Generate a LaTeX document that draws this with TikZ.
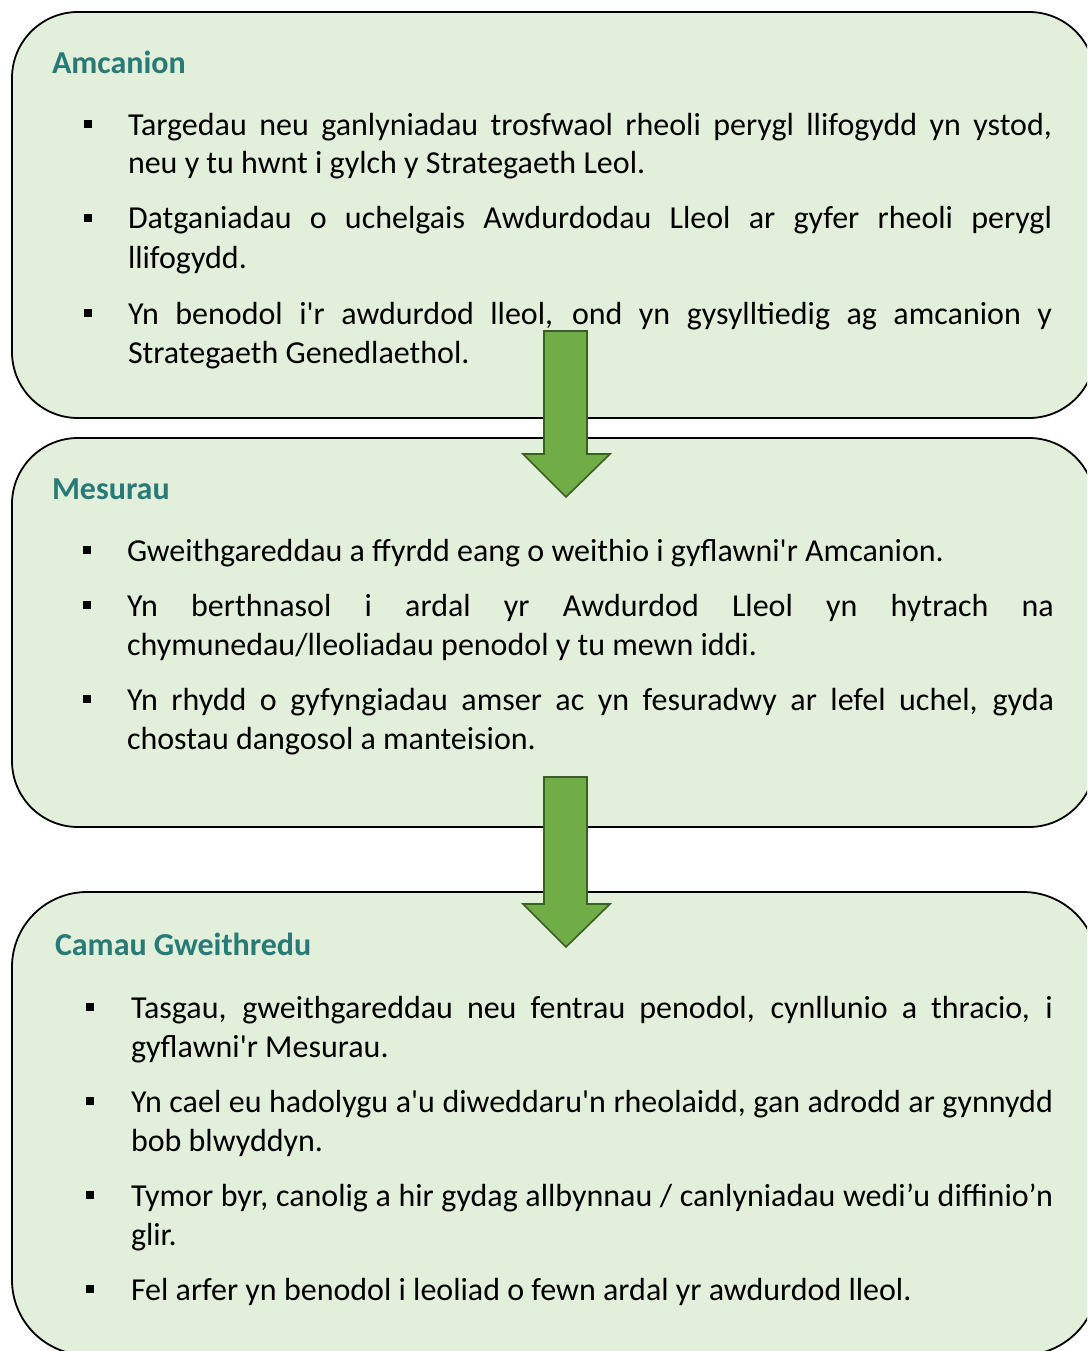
\documentclass[tikz,border=0pt]{standalone}
\usepackage{fontspec}
\setmainfont{Carlito}[Ligatures=TeXOff]
\definecolor{boxfill}{HTML}{E2EFDA}
\definecolor{titlecol}{RGB}{40,122,118}
\definecolor{arrowfill}{HTML}{70AD47}
\definecolor{arrowdraw}{HTML}{3B5E25}
\newcommand\JLine[5]{\node[txt,anchor=base west] (#1) at (#2,#3) {\makebox[#4][s]{#5}};}
\newcommand\PLine[4]{\node[txt,anchor=base west] (#1) at (#2,#3) {#4};}
\newcommand\Bul[3]{\fill (#2,#3-7.5) rectangle +(8,-8);}
\begin{document}
\begin{tikzpicture}[x=1pt,y=-1pt,
  box/.style={draw=black, line width=1.8pt, fill=boxfill, inner sep=0pt, outer sep=0pt},
  txt/.style={inner sep=0pt, outer sep=0pt, font=\fontsize{32}{38}\selectfont, text=black},
  ttl/.style={inner sep=0pt, outer sep=0pt, anchor=base west, font=\fontsize{32}{38}\selectfont\bfseries, text=titlecol},
  blockarrow/.style={fill=arrowfill, draw=arrowdraw, line width=1.6pt, line join=miter}]
\useasboundingbox (0,0) rectangle (1087,1351);
\clip (0,0) rectangle (1087,1351);
% boxes
\node[box, rounded corners=66pt, minimum width=1083pt, minimum height=406pt] (b1) at (553.5,215) {};
\node[box, rounded corners=66pt, minimum width=1083pt, minimum height=389pt] (b2) at (553.5,632.5) {};
\node[box, rounded corners=75pt, minimum width=1086pt, minimum height=463pt] (b3) at (555,1123.5) {};
% arrows
\draw[blockarrow] (544,331) -- (587,331) -- (587,454) -- (610,454) -- (566,497) -- (523,454) -- (544,454) -- cycle;
\draw[blockarrow] (544,777) -- (587,777) -- (587,904) -- (610,904) -- (566,947) -- (523,904) -- (544,904) -- cycle;
% box 1
\node[ttl] (h1) at (52,74) {Amcanion};
\Bul{a}{83.5}{136}
\JLine{l11}{128}{136}{924pt}{Targedau neu ganlyniadau trosfwaol rheoli perygl llifogydd yn ystod,}
\PLine{l12}{128}{174}{neu y tu hwnt i gylch y Strategaeth Leol.}
\Bul{b}{83.5}{229}
\JLine{l13}{128}{229}{924pt}{Datganiadau o uchelgais Awdurdodau Lleol ar gyfer rheoli perygl}
\PLine{l14}{128}{268}{llifogydd.}
\Bul{c}{83.5}{324}
\JLine{l15}{128}{324}{924pt}{Yn benodol i'r awdurdod lleol, ond yn gysylltiedig ag amcanion y}
\PLine{l16}{128}{363}{Strategaeth Genedlaethol.}
% box 2
\node[ttl] (h2) at (52,499) {Mesurau};
\Bul{d}{82.5}{561}
\PLine{l21}{127}{561}{Gweithgareddau a ffyrdd eang o weithio i gyflawni'r Amcanion.}
\Bul{e}{82.5}{616}
\JLine{l22}{127}{616}{927pt}{Yn berthnasol i ardal yr Awdurdod Lleol yn hytrach na}
\PLine{l23}{127}{655}{chymunedau/lleoliadau penodol y tu mewn iddi.}
\Bul{f}{82.5}{710}
\JLine{l24}{127}{710}{927pt}{Yn rhydd o gyfyngiadau amser ac yn fesuradwy ar lefel uchel, gyda}
\PLine{l25}{127}{749}{chostau dangosol a manteision.}
% box 3
\node[ttl] (h3) at (55,955) {Camau Gweithredu};
\Bul{g}{85.5}{1018}
\JLine{l31}{131}{1018}{922pt}{Tasgau, gweithgareddau neu fentrau penodol, cynllunio a thracio, i}
\PLine{l32}{131}{1057}{gyflawni'r Mesurau.}
\Bul{h}{85.5}{1112}
\JLine{l33}{131}{1112}{922pt}{Yn cael eu hadolygu a'u diweddaru'n rheolaidd, gan adrodd ar gynnydd}
\PLine{l34}{131}{1151}{bob blwyddyn.}
\Bul{i}{85.5}{1206}
\JLine{l35}{131}{1206}{922pt}{Tymor byr, canolig a hir gydag allbynnau / canlyniadau wedi’u diffinio’n}
\PLine{l36}{131}{1245}{glir.}
\Bul{j}{85.5}{1300}
\PLine{l37}{131}{1300}{Fel arfer yn benodol i leoliad o fewn ardal yr awdurdod lleol.}
\end{tikzpicture}
\end{document}
